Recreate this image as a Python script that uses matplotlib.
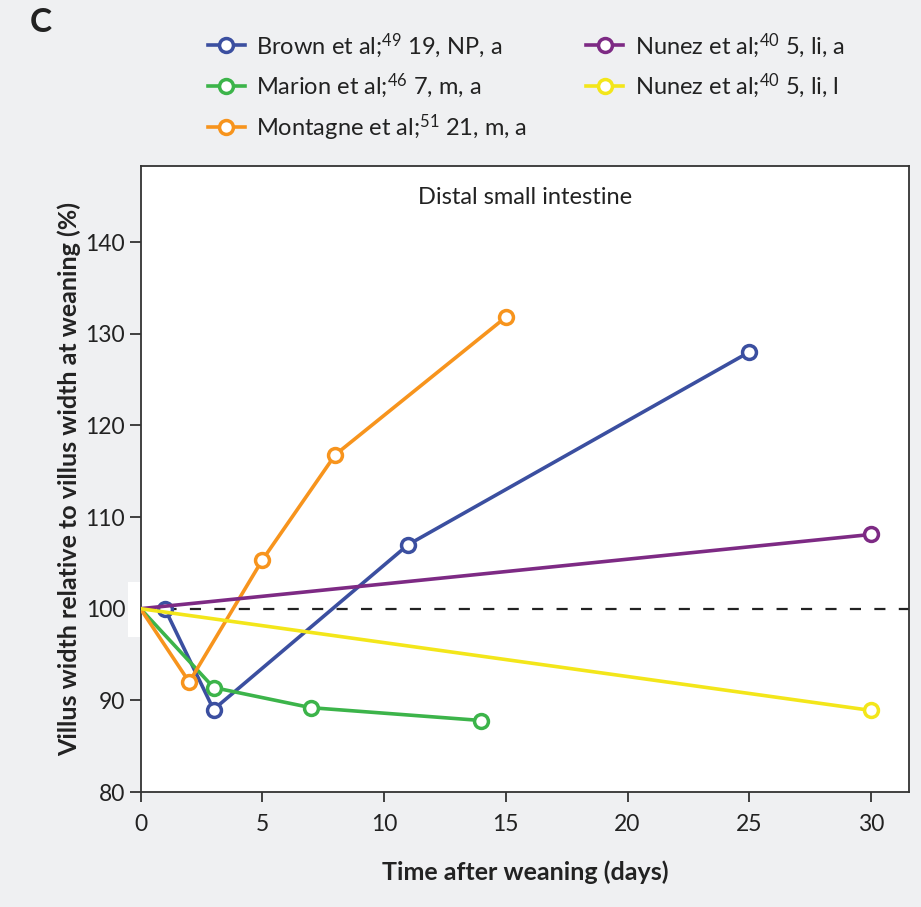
import matplotlib
matplotlib.use("Agg")
import matplotlib.pyplot as plt
from matplotlib.patches import Rectangle
from matplotlib.lines import Line2D

plt.rcParams['font.family'] = ['Lato', 'DejaVu Sans']
plt.rcParams['mathtext.fontset'] = 'custom'
plt.rcParams['mathtext.rm'] = 'Lato'
plt.rcParams['mathtext.it'] = 'Lato:italic'
plt.rcParams['mathtext.bf'] = 'Lato:bold'

# ---- data ----
brown_x = [1, 3, 11, 25]
brown_y = [100, 89, 107, 128]
marion_x = [0, 3, 7, 14]
marion_y = [100, 91.4, 89.2, 87.8]
montagne_x = [0, 2, 5, 8, 15]
montagne_y = [100, 92, 105.3, 116.8, 131.8]
nunez_a_x = [0, 30]
nunez_a_y = [100, 108.1]
nunez_l_x = [0, 30]
nunez_l_y = [100, 88.9]

labels = [r"Brown et al;$^{49}$ 19, NP, a",
          r"Marion et al;$^{46}$ 7, m, a",
          r"Montagne et al;$^{51}$ 21, m, a",
          r"Nunez et al;$^{40}$ 5, li, a",
          r"Nunez et al;$^{40}$ 5, li, l"]
colors = ["#3b4fa0", "#3cb44a", "#f7941d", "#7d2a84", "#f3e61a"]

xticks = [0, 5, 10, 15, 20, 25, 30]
yticks = [80, 90, 100, 110, 120, 130, 140]

W, H = 921, 907
fig = plt.figure(figsize=(W / 100, H / 100), dpi=100)
fig.patch.set_facecolor("#eff0f2")

l, r, t, b = 140.5, 909, 166, 792
ax = fig.add_axes([l / W, 1 - b / H, (r - l) / W, (b - t) / H])
ax.set_facecolor("white")

# white patch near 100 tick
fig.patches.append(Rectangle((128 / W, 1 - 637 / H), 12 / W, 55 / H,
                             transform=fig.transFigure, facecolor="white",
                             edgecolor="none", zorder=0))

ax.set_xlim(0, 31.56)
ax.set_ylim(80, 148.3)

ax.axhline(100, color="#222222", lw=1.6, ls=(0, (5, 6)), zorder=1)

series = [(brown_x, brown_y), (marion_x, marion_y), (montagne_x, montagne_y),
          (nunez_a_x, nunez_a_y), (nunez_l_x, nunez_l_y)]
for (xs, ys), c, lab in zip(series, colors, labels):
    me = [i for i, x in enumerate(xs) if x != 0]
    ax.plot(xs, ys, color=c, lw=2.6, marker="o", ms=10, mfc="white",
            mec=c, mew=2.5, markevery=me, label=lab, zorder=3)

ax.set_xticks(xticks)
ax.set_yticks(yticks)
ax.tick_params(axis="both", labelsize=16.5, colors="#222222", width=1.2)
ax.tick_params(axis="x", length=7, pad=9)
ax.tick_params(axis="y", length=8, pad=3)
for s in ax.spines.values():
    s.set_color("#333333")
    s.set_linewidth(1.3)

ax.set_xlabel("Time after weaning (days)", fontsize=18, fontweight="bold",
              color="#222222", labelpad=18)
ax.set_ylabel("Villus width relative to villus width at weaning (%)",
              fontsize=18, fontweight="bold", color="#222222", labelpad=3)

ax.text(0.5, 0.949, "Distal small intestine", transform=ax.transAxes,
        ha="center", va="center", fontsize=17, color="#222222")

fig.text(30 / W, 1 - 22 / H, "C", fontsize=24, fontweight="bold",
         ha="left", va="center", color="#222222")

leg_handles = [Line2D([], [], color=c, lw=2.6, marker="o", ms=10, mfc="white",
                      mec=c, mew=2.5) for c in colors]
leg = fig.legend(leg_handles, labels, ncol=2, loc="upper left",
                 bbox_to_anchor=(208 / W, 1 - 31 / H), frameon=False,
                 fontsize=17, handlelength=1.55, handletextpad=0.5,
                 columnspacing=2.5, labelspacing=0.5, borderpad=0,
                 borderaxespad=0)
for txt in leg.get_texts():
    txt.set_color("#222222")

fig.savefig("out.png", dpi=100, facecolor=fig.get_facecolor())
